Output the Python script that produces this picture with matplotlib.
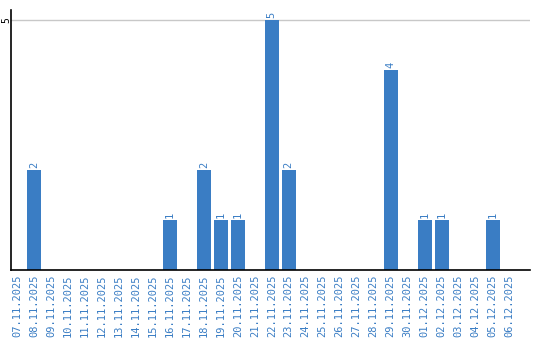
import numpy as np
import matplotlib
matplotlib.use("Agg")
import matplotlib.pyplot as plt

dates = ["07.11.2025", "08.11.2025", "09.11.2025", "10.11.2025", "11.11.2025",
         "12.11.2025", "13.11.2025", "14.11.2025", "15.11.2025", "16.11.2025",
         "17.11.2025", "18.11.2025", "19.11.2025", "20.11.2025", "21.11.2025",
         "22.11.2025", "23.11.2025", "24.11.2025", "25.11.2025", "26.11.2025",
         "27.11.2025", "28.11.2025", "29.11.2025", "30.11.2025", "01.12.2025",
         "02.12.2025", "03.12.2025", "04.12.2025", "05.12.2025", "06.12.2025"]
counts = [0, 2, 0, 0, 0, 0, 0, 0, 0, 1,
          0, 2, 1, 1, 0, 5, 2, 0, 0, 0,
          0, 0, 4, 0, 1, 1, 0, 0, 1, 0]

barColor = "#3a7dc4"

fig = plt.figure(figsize=(5.4, 3.4), dpi=100)
ax = fig.add_axes([0.0204, 0.206, 0.961, 0.765])

x = np.arange(len(dates))
ax.bar(x, counts, width=0.82, color=barColor, zorder=2)

for xi, c in zip(x, counts):
    if c > 0:
        ax.text(xi, c + 0.04, str(c), rotation=90, ha="center", va="bottom",
                color=barColor, fontsize=7.5, family="DejaVu Sans Mono")

ax.set_xlim(-0.35, 30.2)
ax.set_ylim(0, 5.2)
ax.set_xticks(x)
ax.set_xticklabels(dates, rotation=90, color=barColor, fontsize=7.5,
                   family="DejaVu Sans Mono")
ax.tick_params(axis="x", length=0, pad=3)

ax.set_yticks([5])
ax.set_yticklabels(["5"], rotation=90, va="center", fontsize=7,
                   family="DejaVu Sans Mono")
ax.tick_params(axis="y", length=0, pad=0)
ax.grid(axis="y", color="#c8c8c8", linewidth=1, zorder=0)

for side in ["top", "right"]:
    ax.spines[side].set_visible(False)
ax.spines["left"].set_color("black")
ax.spines["bottom"].set_color("black")
ax.spines["left"].set_linewidth(1.2)
ax.spines["bottom"].set_linewidth(1.2)

fig.savefig("out.png", dpi=100)
